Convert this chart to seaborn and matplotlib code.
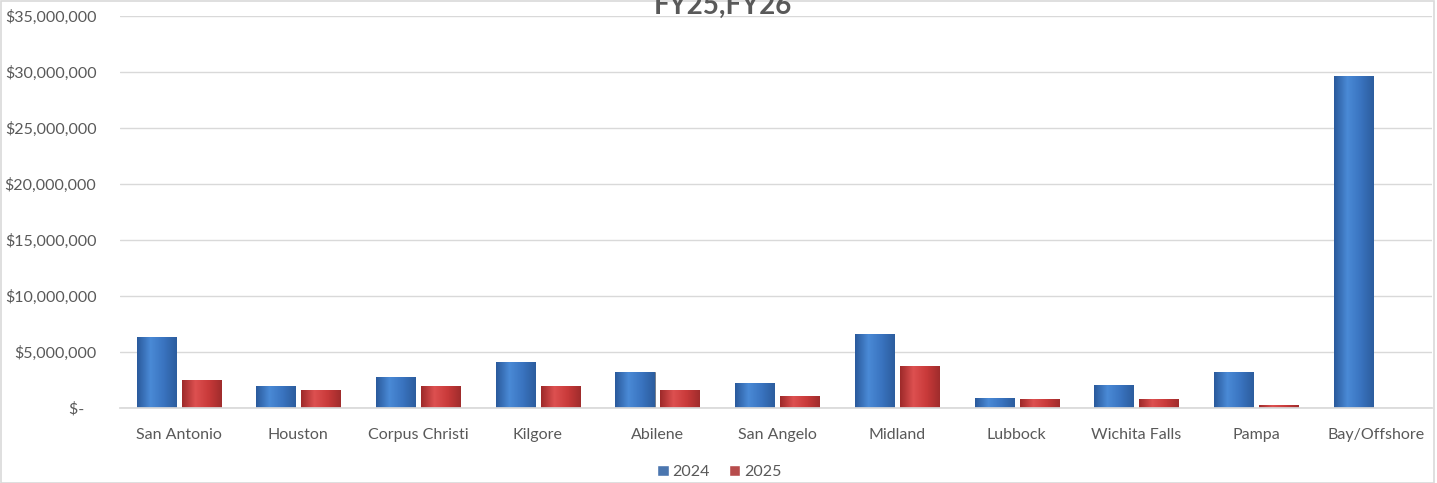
import numpy as np
import pandas as pd
import seaborn as sns
import matplotlib.pyplot as plt
from matplotlib.ticker import FuncFormatter
from matplotlib.patches import Rectangle
from matplotlib.colors import LinearSegmentedColormap

# values
regions = ["San Antonio", "Houston", "Corpus Christi", "Kilgore", "Abilene",
           "San Angelo", "Midland", "Lubbock", "Wichita Falls", "Pampa", "Bay/Offshore"]
fy2024 = [6.35e6, 1.95e6, 2.75e6, 4.10e6, 3.20e6, 2.20e6, 6.60e6, 0.90e6, 2.10e6, 3.20e6, 29.6e6]
fy2025 = [2.50e6, 1.60e6, 1.95e6, 1.95e6, 1.60e6, 1.05e6, 3.75e6, 0.80e6, 0.80e6, 0.30e6, np.nan]
years = ["2024", "2025"]
colors = {"2024": "#3a74c0", "2025": "#c93a3a"}

df = pd.DataFrame({
    "Region": regions * 2,
    "Year": [years[0]] * len(regions) + [years[1]] * len(regions),
    "Amount": fy2024 + fy2025,
})

sns.set_theme(style="white")
plt.rcParams["font.family"] = ["Lato", "DejaVu Sans"]

fig = plt.figure(figsize=(14.37, 4.83), dpi=100)
ax = fig.add_axes([0.0835, 0.155, 0.913, 0.812])

sns.barplot(data=df, x="Region", y="Amount", hue="Year", palette=colors,
            width=0.75, gap=0.13, ax=ax, legend=True)

# shaded look on each bar, similar to the bevelled bars in the original
shade = {"2024": LinearSegmentedColormap.from_list("b", ["#2a5a9c", "#4a8ad6", "#3a74c0", "#2c5d9e"]),
         "2025": LinearSegmentedColormap.from_list("r", ["#9e2a2a", "#dd5050", "#c93a3a", "#a02c2c"])}
grad = np.linspace(0, 1, 64).reshape(1, -1)
for cont, yr in zip(ax.containers, years):
    for bar in cont:
        h = bar.get_height()
        if not np.isfinite(h) or h <= 0:
            continue
        x0, w = bar.get_x(), bar.get_width()
        bar.set_edgecolor("#555555")
        bar.set_linewidth(0.4)
        im = ax.imshow(grad, cmap=shade[yr], aspect="auto",
                       extent=(x0, x0 + w, 0, h), zorder=bar.get_zorder() + 0.1)
        im.set_clip_path(bar)

ax.set_xlim(-0.49, 10.47)
ax.set_ylim(0, 35e6)
ax.set_yticks(np.arange(0, 35e6 + 1, 5e6))
ax.yaxis.set_major_formatter(FuncFormatter(lambda v, p: "$-   " if v == 0 else f"${v:,.0f}"))
ax.grid(axis="y", color="#d9d9d9", linewidth=1)
ax.set_axisbelow(True)
for s in ["top", "right", "left"]:
    ax.spines[s].set_visible(False)
ax.spines["bottom"].set_color("#d9d9d9")
ax.set_xlabel("")
ax.set_ylabel("")
ax.tick_params(axis="both", length=0, colors="#595959", labelsize=11.5)
ax.tick_params(axis="x", pad=14)
ax.tick_params(axis="y", pad=17)

leg = ax.legend(loc="center", bbox_to_anchor=(0.457, -0.163), ncol=2, frameon=False,
                handlelength=0.7, handleheight=0.7, handletextpad=0.25, columnspacing=1.2,
                fontsize=11.5)
for t in leg.get_texts():
    t.set_color("#595959")

fig.text(0.503, 0.971, "FY25,FY26", ha="center", va="baseline",
         fontsize=20, fontweight="bold", color="#595959")

fig.patches.append(Rectangle((0.001, 0.001), 0.997, 0.997, transform=fig.transFigure,
                             fill=False, edgecolor="#d9d9d9", linewidth=1.2))

fig.savefig("out.png", dpi=100)
